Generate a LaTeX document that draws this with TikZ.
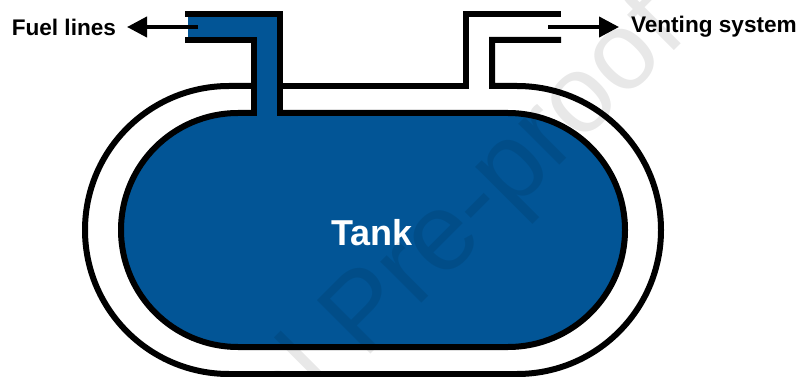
\documentclass[tikz,border=0pt]{standalone}
\usepackage{fontspec}
\setmainfont{Liberation Sans}
\usetikzlibrary{arrows.meta}
\definecolor{tankblue}{HTML}{025596}
\tikzset{
    wall/.style={draw=black, line width=6pt, line cap=butt, line join=miter},
    flow/.style={-{Triangle[length=20pt, width=20pt]}, line width=4pt},
    label/.style={font=\fontsize{22.6}{22.6}\selectfont\bfseries}
}
\begin{document}
\begin{tikzpicture}[x=1pt, y=-1pt]
    \useasboundingbox (0,0) rectangle (798,377);

    % Outer shell
    \draw[wall] (254,86) -- (229,86) arc[start angle=-90, end angle=-270, radius=144] -- (517,374)
        arc[start angle=90, end angle=-90, radius=144] -- (492,86) -- (492,40) -- (561,40);
    \draw[wall] (280,86) -- (466,86) -- (466,14) -- (561,14);

    % Tank and fuel pipe
    \fill[tankblue] (188,14) -- (280,14) -- (280,113) -- (254,113) -- (254,40) -- (188,40) -- cycle;
    \draw[wall, fill=tankblue] (238,113) -- (508,113) arc[start angle=-90, end angle=90, radius=117]
        -- (238,347) arc[start angle=90, end angle=270, radius=117] -- cycle;
    \fill[tankblue] (257,105) rectangle (277,117);
    \draw[wall] (185,14) -- (280,14) -- (280,116);
    \draw[wall] (185,40) -- (254,40) -- (254,116);

    % Labels
    \node[label, anchor=east, inner sep=11pt, outer sep=0pt] (fuel) at (127,27) {Fuel lines};
    \node[label, anchor=west, inner sep=12pt, outer sep=0pt] (vent) at (619,27) {Venting system};
    \node[font=\fontsize{36}{36}\selectfont\bfseries, text=white] (tank) at (372,233) {Tank};

    % Arrows
    \coordinate (fuelend) at (198,27);
    \coordinate (ventend) at (548,27);
    \draw[flow] (fuelend) -- (fuel.east);
    \draw[flow] (ventend) -- (vent.west);

    % Watermark
    \node[font=\fontsize{110}{110}\selectfont, rotate=45, anchor=base east, text=black, text opacity=0.09,
        inner sep=0pt] (mark) at (689,36) {Journal Pre-proof};
\end{tikzpicture}
\end{document}
